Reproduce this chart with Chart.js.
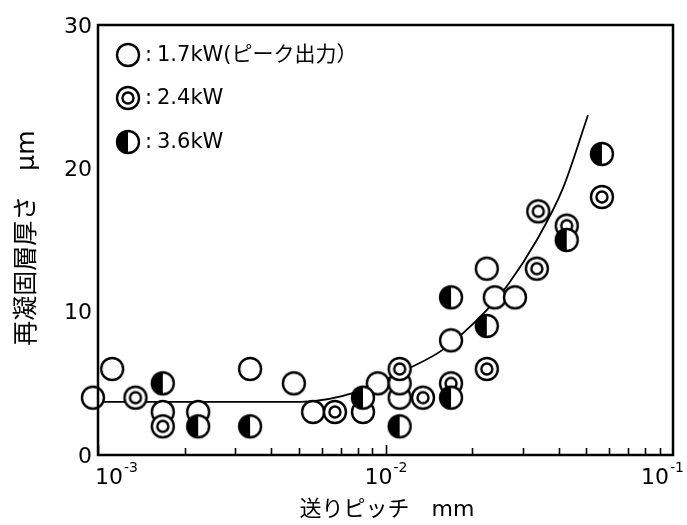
<!DOCTYPE html>
<html>
<head>
<meta charset="utf-8">
<script src="https://cdn.jsdelivr.net/npm/chart.js@4.4.1/dist/chart.umd.min.js"></script>
<style>
  body { margin: 0; background: #fff; }
</style>
</head>
<body>
<canvas id="myChart" width="687" height="525"></canvas>
<script>
// 1.7kW (open circles)
const p17X = [9.6e-4, 1.12e-3, 1.68e-3, 2.23e-3, 3.38e-3, 4.8e-3, 5.6e-3, 8.35e-3, 9.4e-3, 1.12e-2, 1.12e-2, 1.69e-2, 2.25e-2, 2.4e-2, 2.82e-2];
const p17Y = [4, 6, 3, 3, 6, 5, 3, 3, 5, 4, 5, 8, 13, 11, 11];
// 2.4kW (double circles)
const p24X = [1.35e-3, 1.68e-3, 6.67e-3, 1.12e-2, 1.35e-2, 1.69e-2, 2.25e-2, 3.36e-2, 3.4e-2, 4.27e-2, 5.66e-2];
const p24Y = [4, 2, 3, 6, 4, 5, 6, 13, 17, 16, 18];
// 3.6kW (half filled)
const p36X = [1.68e-3, 2.23e-3, 3.38e-3, 8.35e-3, 1.12e-2, 1.69e-2, 1.69e-2, 2.25e-2, 4.27e-2, 5.66e-2];
const p36Y = [5, 2, 2, 4, 2, 11, 4, 9, 15, 21];
// fitted curve
const curveX = [1e-3, 2.5e-3, 5.05e-3, 7.96e-3, 1.22e-2, 1.57e-2, 2.25e-2, 2.67e-2, 3.36e-2, 4.14e-2, 5.06e-2];
const curveY = [3.7, 3.7, 3.7, 4.4, 6.1, 7.3, 10.1, 11.9, 15.0, 18.6, 23.7];

const xTicks = [1e-3, 1e-2, 1e-1];
const xTickExp = ['-3', '-2', '-1'];
const yTicks = [0, 10, 20, 30];
const legendLabels = ['1.7kW(ピーク出力）', '2.4kW', '3.6kW'];

const FONT = "'DejaVu Sans', 'Noto Sans CJK JP', sans-serif";

function makeMarker(kind) {
    const c = document.createElement('canvas');
    c.width = 28; c.height = 28;
    const g = c.getContext('2d');
    g.lineWidth = 2.4;
    g.strokeStyle = '#000';
    g.fillStyle = '#fff';
    g.beginPath();
    g.arc(14, 14, 11, 0, Math.PI * 2);
    g.fill();
    if (kind === 'half') {
        g.fillStyle = '#000';
        g.beginPath();
        g.arc(14, 14, 11, Math.PI / 2, Math.PI * 1.5);
        g.closePath();
        g.fill();
    }
    g.beginPath();
    g.arc(14, 14, 11, 0, Math.PI * 2);
    g.stroke();
    if (kind === 'double') {
        g.beginPath();
        g.arc(14, 14, 5.5, 0, Math.PI * 2);
        g.stroke();
    }
    return c;
}

const markers = [makeMarker('open'), makeMarker('double'), makeMarker('half')];

function pts(xs, ys) {
    return xs.map((x, i) => ({ x: x, y: ys[i] }));
}

const frame = {
    id: 'frame',
    afterDatasetsDraw(chart) {
        const { ctx, chartArea: a, scales: { x, y } } = chart;
        ctx.save();
        ctx.strokeStyle = '#000';
        ctx.fillStyle = '#000';

        // ticks on the bottom axis, pointing inward
        ctx.lineWidth = 1.6;
        for (let d = -3; d < -1; d++) {
            for (let m = 1; m < 10; m++) {
                const px = Math.round(x.getPixelForValue(m * Math.pow(10, d))) + 0.5;
                const len = m === 1 ? 10 : 7;
                ctx.beginPath();
                ctx.moveTo(px, a.bottom);
                ctx.lineTo(px, a.bottom - len);
                ctx.stroke();
            }
        }

        ctx.lineWidth = 2.5;
        ctx.strokeRect(a.left, a.top, a.right - a.left, a.bottom - a.top);

        // x tick labels 10^n
        xTicks.forEach((v, i) => {
            const px = x.getPixelForValue(v);
            ctx.font = '22px ' + FONT;
            const w1 = ctx.measureText('10').width;
            ctx.font = '14px ' + FONT;
            const w2 = ctx.measureText(xTickExp[i]).width;
            let left;
            if (i === 0) left = px - 3;
            else if (i === xTicks.length - 1) left = px + 10 - w1 - w2;
            else left = px - (w1 + w2) / 2;
            ctx.textAlign = 'left';
            ctx.textBaseline = 'alphabetic';
            ctx.font = '22px ' + FONT;
            ctx.fillText('10', left, 484);
            ctx.font = '14px ' + FONT;
            ctx.fillText(xTickExp[i], left + w1 + 1, 472);
        });

        // y tick labels
        ctx.font = '22px ' + FONT;
        ctx.textAlign = 'right';
        ctx.textBaseline = 'middle';
        yTicks.forEach(v => {
            ctx.fillText(String(v), a.left - 6, y.getPixelForValue(v) + 2);
        });

        // axis titles
        ctx.textAlign = 'center';
        ctx.font = '22px ' + FONT;
        ctx.fillText('送りピッチ　mm', 387, 510);
        ctx.save();
        ctx.translate(27, 238);
        ctx.rotate(-Math.PI / 2);
        ctx.font = '25px ' + FONT;
        ctx.fillText('再凝固層厚さ　μm', 0, 0);
        ctx.restore();

        // legend inside plot
        const rows = [55, 98, 142];
        ctx.textAlign = 'left';
        ctx.font = '21px ' + FONT;
        legendLabels.forEach((t, i) => {
            ctx.drawImage(markers[i], 128 - 14, rows[i] - 14);
            ctx.fillText(':', 145, rows[i] + 1);
            ctx.fillText(t, 157, rows[i] + 1);
        });
        ctx.restore();
    }
};

const config = {
    type: 'scatter',
    data: {
        datasets: [
            {
                label: '3.6kW',
                data: pts(p36X, p36Y),
                pointStyle: markers[2],
                pointRadius: 11,
                order: 1,
                clip: false
            },
            {
                label: '2.4kW',
                data: pts(p24X, p24Y),
                pointStyle: markers[1],
                pointRadius: 11,
                order: 2,
                clip: false
            },
            {
                label: '1.7kW',
                data: pts(p17X, p17Y),
                pointStyle: markers[0],
                pointRadius: 11,
                order: 3,
                clip: false
            },
            {
                type: 'line',
                label: 'fit',
                data: pts(curveX, curveY),
                borderColor: '#000',
                borderWidth: 1.8,
                pointRadius: 0,
                tension: 0.4,
                cubicInterpolationMode: 'monotone',
                fill: false,
                order: 4
            }
        ]
    },
    options: {
        responsive: false,
        animation: false,
        devicePixelRatio: 1,
        layout: {
            padding: { left: 98, top: 25, right: 14, bottom: 70 }
        },
        plugins: {
            legend: { display: false },
            tooltip: { enabled: false }
        },
        scales: {
            x: {
                type: 'logarithmic',
                min: 1e-3,
                max: 1e-1,
                display: false
            },
            y: {
                min: 0,
                max: 30,
                display: false
            }
        }
    },
    plugins: [frame]
};

const myChart = new Chart(document.getElementById('myChart'), config);
</script>
</body>
</html>
